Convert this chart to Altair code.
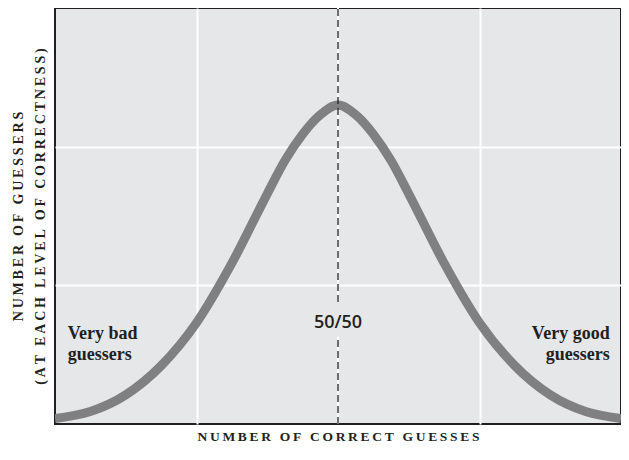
import altair as alt
import pandas as pd

# Curve (x: correct guesses, y: number of guessers)
curve_x = [0, 0.25, 0.5, 0.75, 1.0, 1.25, 1.5, 1.625, 1.75, 1.875, 2.0,
           2.125, 2.25, 2.375, 2.5, 2.75, 3.0, 3.25, 3.5, 3.75, 4.0]
curve_y = [0.04, 0.09, 0.21, 0.42, 0.73, 1.16, 1.66, 1.90, 2.09, 2.23, 2.30,
           2.23, 2.09, 1.90, 1.66, 1.16, 0.73, 0.42, 0.21, 0.09, 0.04]

# Centre line (50/50) segments, broken around the label
mid_x = [2, 2]
mid_y_start = [0, 0.88]
mid_y_end = [0.63, 3]

# Annotations
note_text = ["Very bad\nguessers", "Very good\nguessers"]
note_x = [0.09, 3.92]
note_y = [0.61, 0.61]
center_label = "50/50"
center_x = [2]
center_y = [0.69]

x_title = "NUMBER OF CORRECT GUESSES"
y_title = ["NUMBER OF GUESSERS", "(AT EACH LEVEL OF CORRECTNESS)"]


def spaced(s):
    return "\u2009".join(list(s))


curve_df = pd.DataFrame({"x": curve_x, "y": curve_y})
mid_df = pd.DataFrame({"x": mid_x, "y": mid_y_start, "y2": mid_y_end})
notes_df = pd.DataFrame({"x": note_x, "y": note_y, "t": note_text})
center_df = pd.DataFrame({"x": center_x, "y": center_y, "t": [center_label]})

xscale = alt.Scale(domain=[0, 4], nice=False, zero=False)
yscale = alt.Scale(domain=[0, 3], nice=False)

x_axis = alt.Axis(
    values=[1, 3], grid=True, gridColor="white", gridWidth=2, ticks=False,
    labels=False, domain=False, title=spaced(x_title), titlePadding=5,
    titleFontSize=13.5,
)
y_axis = alt.Axis(
    values=[1, 2], grid=True, gridColor="white", gridWidth=2, ticks=False,
    labels=False, domain=False, title=[spaced(t) for t in y_title],
    titlePadding=8, titleLineHeight=22,
)

white_mid = alt.Chart(mid_df).mark_rule(color="white", strokeWidth=2).encode(
    x=alt.X("x:Q", scale=xscale, axis=x_axis),
    y=alt.Y("y:Q", scale=yscale, axis=y_axis),
    y2="y2:Q",
)

line = alt.Chart(curve_df).mark_line(
    color="#808083", strokeWidth=9, interpolate="monotone", clip=True, strokeCap="butt"
).encode(x=alt.X("x:Q", scale=xscale), y=alt.Y("y:Q", scale=yscale))

dash_mid = alt.Chart(mid_df).mark_rule(
    color="#231f20", strokeWidth=1.3, strokeDash=[7, 4]
).encode(x=alt.X("x:Q", scale=xscale), y=alt.Y("y:Q", scale=yscale), y2="y2:Q")

notes_left = alt.Chart(notes_df.iloc[[0]]).mark_text(
    align="left", baseline="alphabetic", font="Liberation Serif", fontSize=18,
    fontWeight="bold", color="#231f20", lineBreak="\n", lineHeight=21,
).encode(x=alt.X("x:Q", scale=xscale), y=alt.Y("y:Q", scale=yscale), text="t:N")

notes_right = alt.Chart(notes_df.iloc[[1]]).mark_text(
    align="right", baseline="alphabetic", font="Liberation Serif", fontSize=18,
    fontWeight="bold", color="#231f20", lineBreak="\n", lineHeight=21,
).encode(x=alt.X("x:Q", scale=xscale), y=alt.Y("y:Q", scale=yscale), text="t:N")

center = alt.Chart(center_df).mark_text(
    align="center", baseline="alphabetic", font="Open Sans", fontSize=18,
    fontWeight=600, color="#231f20",
).encode(x=alt.X("x:Q", scale=xscale), y=alt.Y("y:Q", scale=yscale), text="t:N")

chart = alt.layer(white_mid, line, dash_mid, notes_left, notes_right, center).properties(
    width=566, height=416,
    padding={"left": 47, "top": 0, "right": 0, "bottom": 20},
    autosize=alt.AutoSizeParams(type="none"),
    background="white",
).configure_view(
    fill="#e6e7e8", stroke="#231f20", strokeWidth=2,
).configure_axis(
    titleFont="Liberation Serif", titleFontSize=14, titleFontWeight="bold",
    titleColor="#231f20",
)

chart.save("out.html", embed_options={"renderer": "svg", "actions": False})
